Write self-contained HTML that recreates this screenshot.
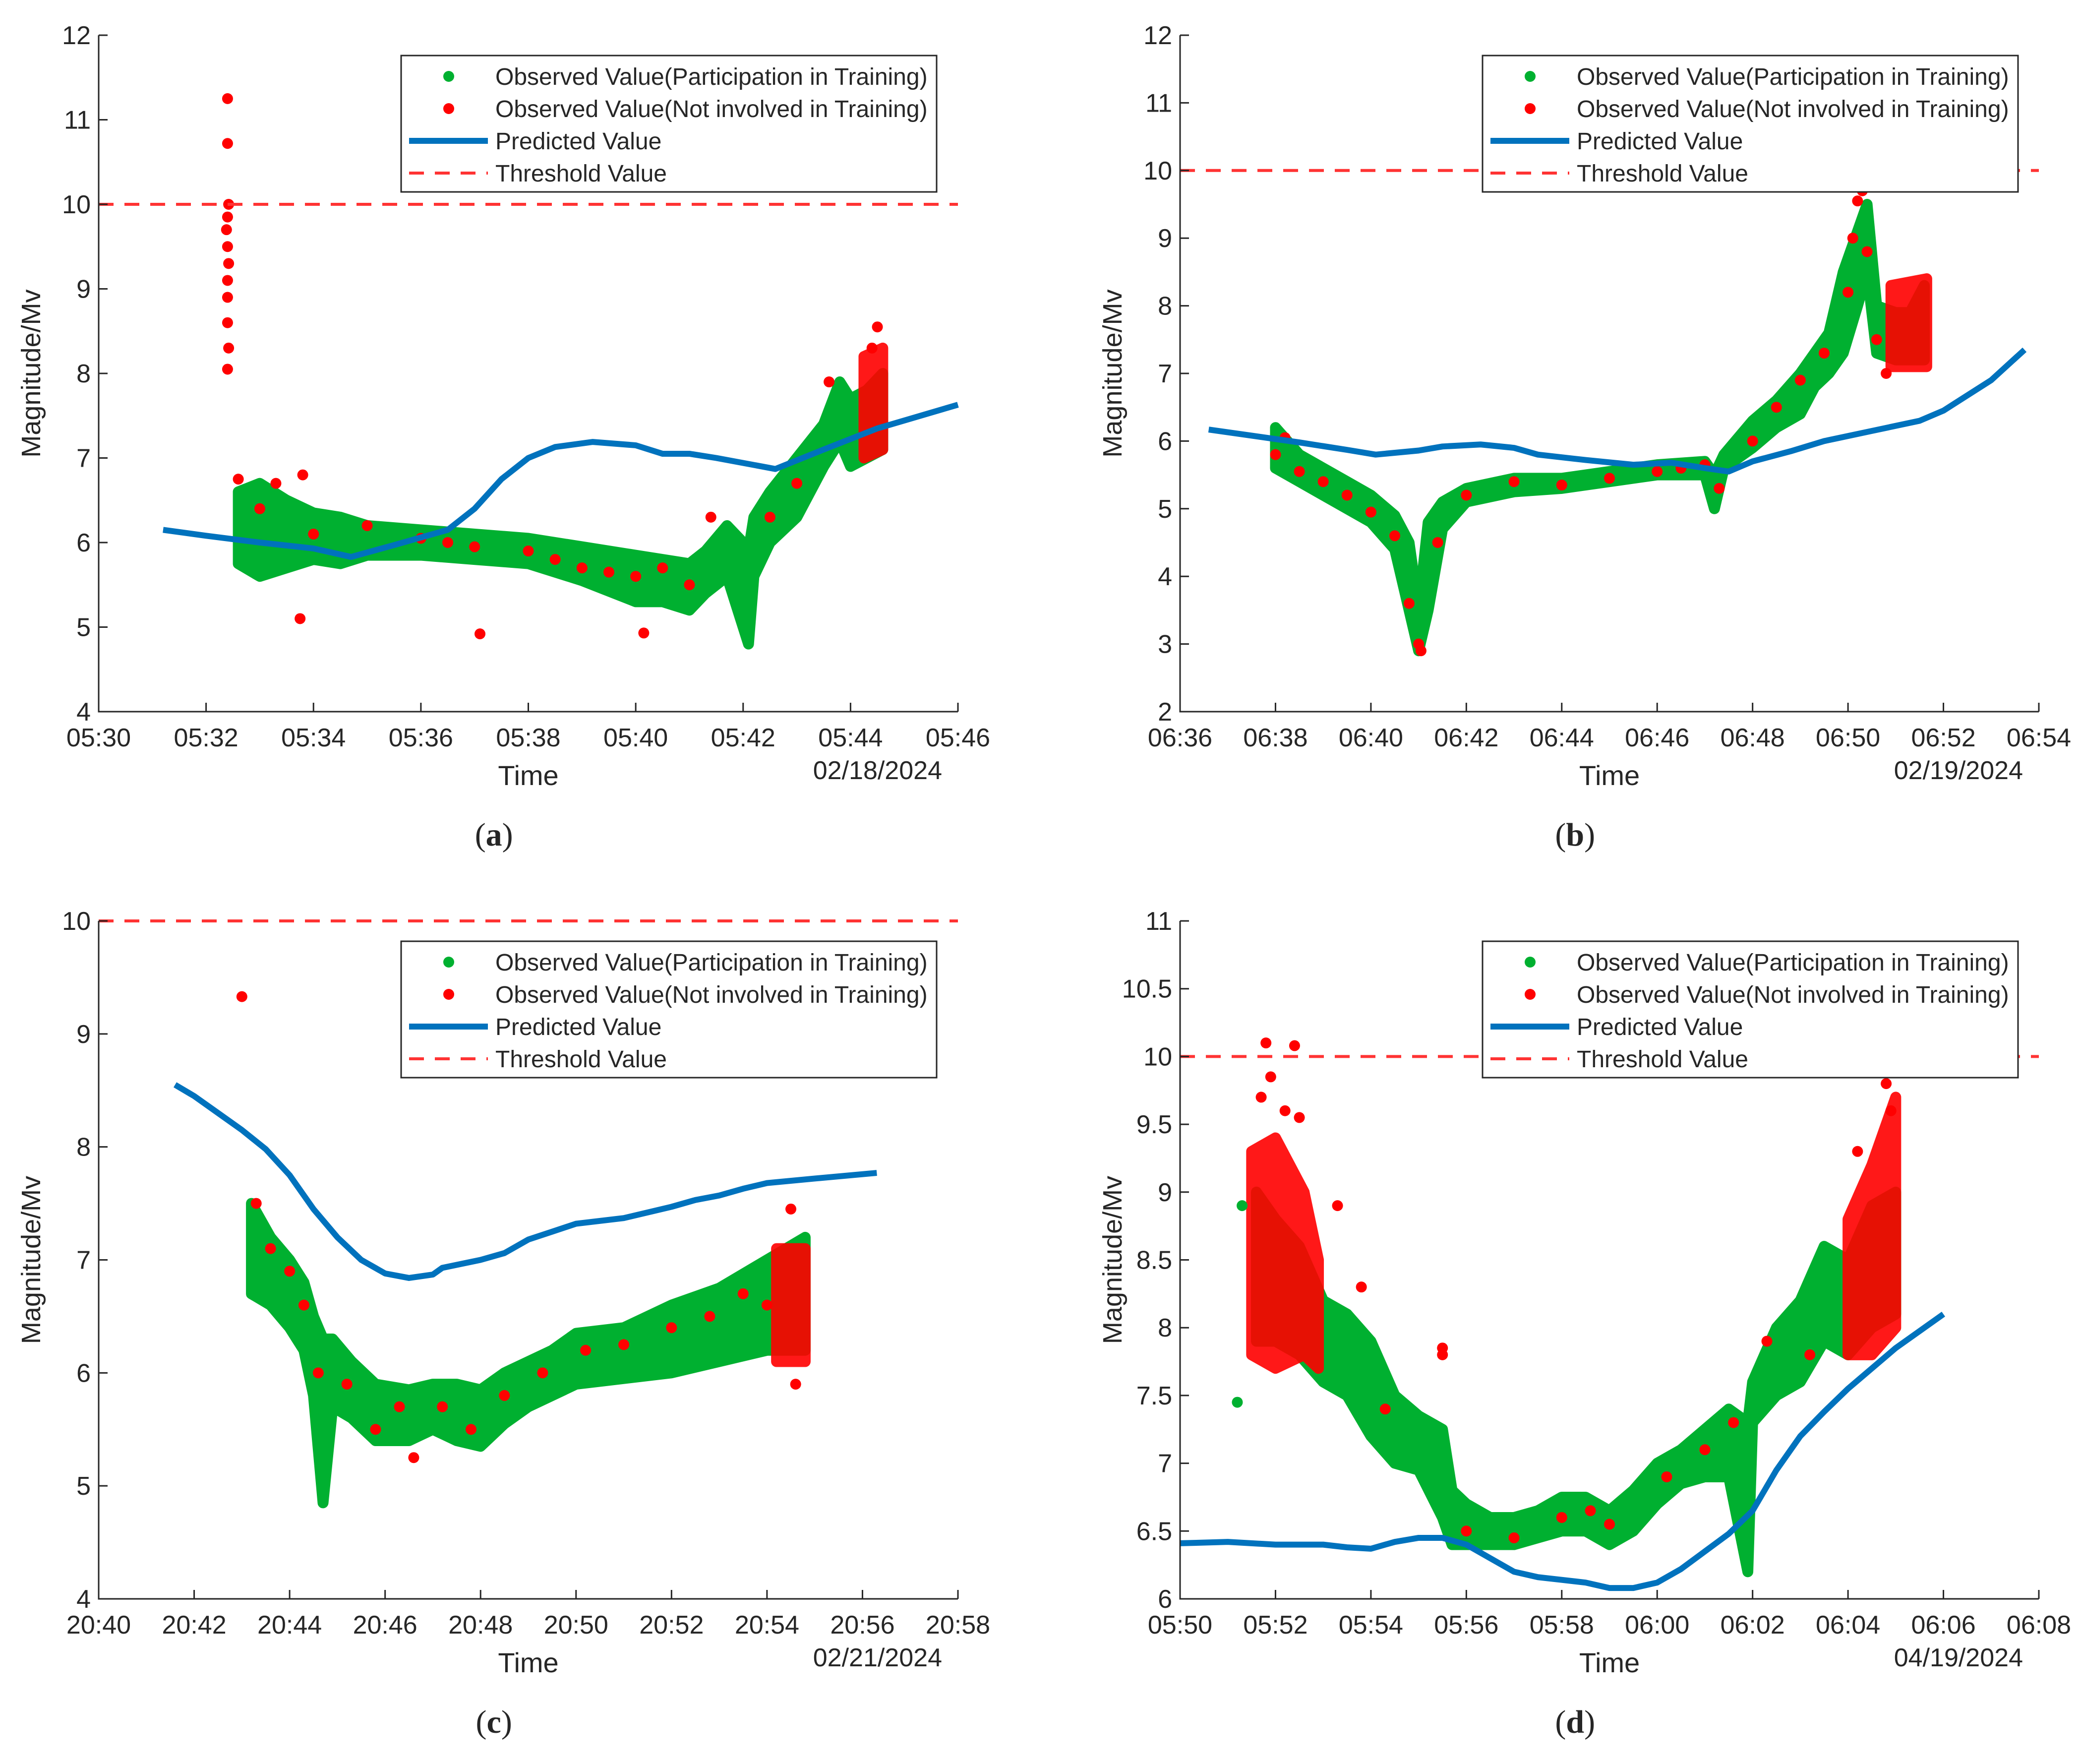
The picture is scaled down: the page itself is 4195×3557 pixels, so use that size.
<!DOCTYPE html>
<html><head><meta charset="utf-8"><style>
html,body{margin:0;padding:0;background:#fff}
svg{display:block}
text{font-family:"Liberation Sans",Arial,sans-serif;fill:#262626}
</style></head><body>
<svg id="fig" xmlns="http://www.w3.org/2000/svg" width="4195" height="3557" viewBox="0 0 4195 3557"></svg>
<script>
// ---------- DATA ----------
// Panel a (minutes after 05:30, 02/18/2024)
const aXTicks=['05:30','05:32','05:34','05:36','05:38','05:40','05:42','05:44','05:46'];
const aYTicks=[4,5,6,7,8,9,10,11,12];
const aPredT=[1.2,2,3,4,4.7,5.5,6.5,7,7.5,8,8.5,9.2,10,10.5,11,11.5,12.6,13.5,14.5,16];
const aPredV=[6.15,6.08,6.0,5.93,5.83,5.97,6.15,6.4,6.75,7.0,7.13,7.19,7.15,7.05,7.05,7.0,6.87,7.1,7.35,7.63];
const aBandT=[2.6,3,3.5,4,4.5,5,6,7,8,9,10,10.5,11,11.3,11.7,12.0,12.1,12.2,12.5,13,13.5,13.8,14,14.3,14.6];
const aBandLo=[5.75,5.6,5.7,5.8,5.75,5.85,5.85,5.8,5.75,5.55,5.3,5.3,5.2,5.4,5.6,5.0,4.8,5.6,6.0,6.3,6.9,7.2,6.9,7.0,7.1];
const aBandHi=[6.6,6.7,6.5,6.35,6.3,6.2,6.15,6.1,6.05,5.95,5.85,5.8,5.75,5.9,6.2,6.0,5.9,6.3,6.6,7.0,7.4,7.9,7.7,7.8,8.0];
const aRedBandT=[14.25,14.6];
const aRedBandLo=[7.0,7.1];
const aRedBandHi=[8.2,8.3];
const aRedT=[2.4,2.4,2.42,2.4,2.38,2.4,2.42,2.4,2.4,2.4,2.42,2.4,2.6,3.3,3.8,3.75,7.1,10.15,13.6,14.5,14.4,11.4,3.0,4.0,5.0,6.0,7.0,8.0,9.0,10.0,10.5,11.0,12.5,13.0,6.5,8.5,9.5];
const aRedV=[11.25,10.72,10.0,9.85,9.7,9.5,9.3,9.1,8.9,8.6,8.3,8.05,6.75,6.7,6.8,5.1,4.92,4.93,7.9,8.55,8.3,6.3,6.4,6.1,6.2,6.05,5.95,5.9,5.7,5.6,5.7,5.5,6.3,6.7,6.0,5.8,5.65];

// Panel b (minutes after 06:36, 02/19/2024)
const bXTicks=['06:36','06:38','06:40','06:42','06:44','06:46','06:48','06:50','06:52','06:54'];
const bYTicks=[2,3,4,5,6,7,8,9,10,11,12];
const bPredT=[0.6,1.5,2.5,3.5,4.1,5,5.5,6.3,7,7.5,8.5,9.5,10.3,11,11.5,12,12.8,13.5,14.5,15.5,16,17,17.7];
const bPredV=[6.17,6.08,5.98,5.87,5.8,5.86,5.92,5.95,5.9,5.8,5.72,5.65,5.68,5.6,5.55,5.7,5.85,6.0,6.15,6.3,6.45,6.9,7.35];
const bBandT=[2,2.5,3,3.5,4,4.5,4.8,5,5.2,5.5,6,7,8,9,10,11,11.2,11.4,12,12.5,13,13.3,13.6,13.9,14.2,14.4,14.6,15,15.3,15.6];
const bBandLo=[5.6,5.4,5.2,5.0,4.8,4.4,3.5,2.9,3.5,4.7,5.1,5.25,5.3,5.4,5.5,5.5,5.0,5.6,5.9,6.2,6.4,6.8,7.0,7.3,8.0,8.5,7.3,7.2,7.2,7.2];
const bBandHi=[6.2,5.8,5.6,5.4,5.2,4.9,4.5,3.5,4.8,5.1,5.3,5.45,5.45,5.55,5.65,5.7,5.5,5.8,6.3,6.6,7.0,7.3,7.6,8.5,9.1,9.5,8.0,7.9,7.9,8.3];
const bRedBandT=[14.9,15.65];
const bRedBandLo=[7.1,7.1];
const bRedBandHi=[8.3,8.4];
const bRedT=[2.0,2.2,2.5,3,3.5,4,4.5,4.8,5.0,5.05,5.4,6,7,8,9,10,10.5,11,11.3,12,12.5,13,13.5,14.0,14.1,14.2,14.3,14.4,14.6,14.8];
const bRedV=[5.8,6.05,5.55,5.4,5.2,4.95,4.6,3.6,3.0,2.9,4.5,5.2,5.4,5.35,5.45,5.55,5.6,5.65,5.3,6.0,6.5,6.9,7.3,8.2,9.0,9.55,9.7,8.8,7.5,7.0];

// Panel c (minutes after 20:40, 02/21/2024)
const cXTicks=['20:40','20:42','20:44','20:46','20:48','20:50','20:52','20:54','20:56','20:58'];
const cYTicks=[4,5,6,7,8,9,10];
const cPredT=[1.6,2,2.5,3,3.5,4,4.5,5,5.5,6,6.5,7,7.2,8,8.5,9,9.5,10,11,12,12.5,13,13.5,14,15,16.3];
const cPredV=[8.55,8.45,8.3,8.15,7.98,7.75,7.45,7.2,7.0,6.88,6.84,6.87,6.93,7.0,7.06,7.18,7.25,7.32,7.37,7.47,7.53,7.57,7.63,7.68,7.72,7.77];
const cBandT=[3.2,3.6,4,4.3,4.5,4.7,4.9,5.3,5.8,6.5,7,7.5,8,8.5,9,9.5,10,11,12,13,14,14.8];
const cBandLo=[6.7,6.6,6.4,6.2,5.8,4.85,5.7,5.6,5.4,5.4,5.5,5.4,5.35,5.55,5.7,5.8,5.9,5.95,6.0,6.1,6.2,6.2];
const cBandHi=[7.5,7.2,7.0,6.8,6.5,6.3,6.3,6.1,5.9,5.85,5.9,5.9,5.85,6.0,6.1,6.2,6.35,6.4,6.6,6.75,7.0,7.2];
const cRedBandT=[14.2,14.8];
const cRedBandLo=[6.1,6.1];
const cRedBandHi=[7.1,7.1];
const cRedT=[3.0,3.3,3.6,4.0,4.3,4.6,5.2,5.8,6.3,6.6,7.2,7.8,8.5,9.3,10.2,11,12,12.8,13.5,14.0,14.5,14.6];
const cRedV=[9.33,7.5,7.1,6.9,6.6,6.0,5.9,5.5,5.7,5.25,5.7,5.5,5.8,6.0,6.2,6.25,6.4,6.5,6.7,6.6,7.45,5.9];

// Panel d (minutes after 05:50, 04/19/2024)
const dXTicks=['05:50','05:52','05:54','05:56','05:58','06:00','06:02','06:04','06:06','06:08'];
const dYTicks=[6,6.5,7,7.5,8,8.5,9,9.5,10,10.5,11];
const dPredT=[0,1,2,3,3.5,4,4.5,5,5.5,6,6.5,7,7.5,8,8.5,9,9.5,10,10.5,11,11.5,12,12.5,13,13.5,14,15,16];
const dPredV=[6.41,6.42,6.4,6.4,6.38,6.37,6.42,6.45,6.45,6.4,6.3,6.2,6.16,6.14,6.12,6.08,6.08,6.12,6.22,6.35,6.48,6.65,6.95,7.2,7.38,7.55,7.85,8.1];
const dBandT=[1.6,2,2.5,3,3.5,4,4.5,5,5.5,5.7,6,6.5,7,7.5,8,8.5,9,9.5,10,10.5,11,11.5,11.9,12.0,12.5,13,13.5,14,14.5,15];
const dBandLo=[7.9,7.9,7.8,7.6,7.5,7.2,7.0,6.95,6.6,6.4,6.4,6.4,6.4,6.45,6.5,6.5,6.4,6.5,6.7,6.85,6.9,6.9,6.2,7.3,7.5,7.6,7.9,7.8,8.0,8.1];
const dBandHi=[9.0,8.8,8.6,8.2,8.1,7.9,7.5,7.35,7.25,6.8,6.7,6.6,6.6,6.65,6.75,6.75,6.65,6.8,7.0,7.1,7.25,7.4,7.3,7.6,8.0,8.2,8.6,8.5,8.9,9.0];
const dRedBandT=[1.5,2.0,2.6,2.9];
const dRedBandLo=[7.8,7.7,7.8,7.7];
const dRedBandHi=[9.3,9.4,9.0,8.5];
const dRed2T=[14.0,14.5,15.0];
const dRed2Lo=[7.8,7.8,8.0];
const dRed2Hi=[8.8,9.2,9.7];
const dRedT=[1.8,2.4,1.7,1.9,2.2,2.5,3.3,3.8,4.3,5.5,5.5,6.0,7.0,8.0,8.6,9.0,10.2,11.0,11.6,12.3,13.2,14.8,14.9,14.2];
const dRedV=[10.1,10.08,9.7,9.85,9.6,9.55,8.9,8.3,7.4,7.8,7.85,6.5,6.45,6.6,6.65,6.55,6.9,7.1,7.3,7.9,7.8,9.8,9.6,9.3];
const dGreenT=[1.2,1.3];
const dGreenV=[7.45,8.9];

// ---------- RENDER ----------
const NS='http://www.w3.org/2000/svg';
const fig=document.getElementById('fig');
function mk(tag,attrs,parent){const e=document.createElementNS(NS,tag);for(const k in attrs)e.setAttribute(k,attrs[k]);(parent||fig).appendChild(e);return e;}
const GREEN='#00B030',RED='#FF0000',BLUE='#0072BD',DOT=11;

function panel(cfg){
  const g=mk('g',{});
  
  
  const xs=t=>cfg.l+(t-0)/(cfg.xmax)*(cfg.r-cfg.l);
  const ys=v=>cfg.b-(v-cfg.ymin)/(cfg.ymax-cfg.ymin)*(cfg.b-cfg.t);
  function band(T,L,H,col,name,op){
    let d='M'+T.map((t,i)=>xs(t)+','+ys(H[i])).join(' L');
    for(let i=T.length-1;i>=0;i--)d+=' L'+xs(T[i])+','+ys(L[i]);
    d+='Z';
    const p=mk('path',{d:d,fill:col,stroke:col,'stroke-width':2*DOT,'stroke-linejoin':'round',opacity:op},g);
    
    
  }
  band(cfg.bandT,cfg.bandLo,cfg.bandHi,GREEN,'training-observations',1);
  cfg.redBands.forEach(rb=>band(rb[0],rb[1],rb[2],RED,'test-observations-dense',0.9));
  if(cfg.greenT)cfg.greenT.forEach((t,i)=>{
    const c=mk('circle',{cx:xs(t),cy:ys(cfg.greenV[i]),r:DOT,fill:GREEN},g);
    
    
  });
  cfg.redT.forEach((t,i)=>{
    const c=mk('circle',{cx:xs(t),cy:ys(cfg.redV[i]),r:DOT,fill:RED},g);
    
    
  });
  const pl=mk('polyline',{points:cfg.predT.map((t,i)=>xs(t)+','+ys(cfg.predV[i])).join(' '),fill:'none',stroke:BLUE,'stroke-width':12,'stroke-linejoin':'round'},g);
  
  
  const th=mk('line',{x1:cfg.l,x2:cfg.r,y1:ys(10),y2:ys(10),stroke:'#FF3333','stroke-width':6,'stroke-dasharray':'30 22'},g);
  
  
  const ax=mk('path',{d:`M${cfg.l},${cfg.t} L${cfg.l},${cfg.b} L${cfg.r},${cfg.b}`,fill:'none',stroke:'#262626','stroke-width':3},g);
  
  
  cfg.yTicks.forEach(v=>{
    const y=ys(v);
    mk('line',{x1:cfg.l,x2:cfg.l+18,y1:y,y2:y,stroke:'#262626','stroke-width':3},g);
    const tx=mk('text',{x:cfg.l-16,y:y+18,'font-size':52,'text-anchor':'end'},g);
    tx.textContent=String(v);
    
    
  });
  cfg.xTicks.forEach((lab,i)=>{
    const x=xs(i*2);
    mk('line',{x1:x,x2:x,y1:cfg.b,y2:cfg.b-18,stroke:'#262626','stroke-width':3},g);
    const tx=mk('text',{x:x,y:cfg.b+70,'font-size':52,'text-anchor':'middle'},g);
    tx.textContent=lab;
    
    
  });
  const xt=mk('text',{x:cfg.l+(cfg.r-cfg.l)*0.5,y:cfg.b+148,'font-size':56,'text-anchor':'middle'},g);
  xt.textContent='Time';
  
  
  const dt=mk('text',{x:cfg.r-32,y:cfg.b+136,'font-size':52,'text-anchor':'end'},g);
  dt.textContent=cfg.date;
  
  
  const yt=mk('text',{x:0,y:0,'font-size':54,'text-anchor':'middle',transform:`translate(${cfg.l-118},${(cfg.t+cfg.b)/2}) rotate(-90)`},g);
  yt.textContent='Magnitude/Mv';
  
  
  const cap=mk('text',{x:cfg.l+(cfg.r-cfg.l)*0.46,y:cfg.b+270,'font-size':66,'text-anchor':'middle',style:'font-family:"Liberation Serif",serif'},g);
  cap.innerHTML='(<tspan font-weight="bold">'+cfg.id+'</tspan>)';
  
  
  const lx=cfg.l+610, ly=cfg.t+41;
  const lg=mk('g',{},g);
  
  
  mk('rect',{x:lx,y:ly,width:1080,height:275,fill:'#fff',stroke:'#262626','stroke-width':3},lg);
  const rows=['Observed Value(Participation in Training)','Observed Value(Not involved in Training)','Predicted Value','Threshold Value'];
  rows.forEach((r,i)=>{
    const cy=ly+42+i*65;
    if(i===0)mk('circle',{cx:lx+96,cy:cy,r:DOT,fill:GREEN},lg);
    if(i===1)mk('circle',{cx:lx+96,cy:cy,r:DOT,fill:RED},lg);
    if(i===2)mk('line',{x1:lx+16,x2:lx+175,y1:cy,y2:cy,stroke:BLUE,'stroke-width':12},lg);
    if(i===3)mk('line',{x1:lx+16,x2:lx+175,y1:cy,y2:cy,stroke:'#FF3333','stroke-width':6,'stroke-dasharray':'30 22'},lg);
    const t=mk('text',{x:lx+190,y:cy+17,'font-size':48},lg);
    t.textContent=r;
    
    
  });
}
const top1=71,bot1=1435,top2=1857,bot2=3224;
panel({id:'a',l:199,r:1932,t:top1,b:bot1,xmax:16,ymin:4,ymax:12,xTicks:aXTicks,yTicks:aYTicks,date:'02/18/2024',
  predT:aPredT,predV:aPredV,bandT:aBandT,bandLo:aBandLo,bandHi:aBandHi,redBands:[[aRedBandT,aRedBandLo,aRedBandHi]],redT:aRedT,redV:aRedV});
panel({id:'b',l:2380,r:4112,t:top1,b:bot1,xmax:18,ymin:2,ymax:12,xTicks:bXTicks,yTicks:bYTicks,date:'02/19/2024',
  predT:bPredT,predV:bPredV,bandT:bBandT,bandLo:bBandLo,bandHi:bBandHi,redBands:[[bRedBandT,bRedBandLo,bRedBandHi]],redT:bRedT,redV:bRedV});
panel({id:'c',l:199,r:1932,t:top2,b:bot2,xmax:18,ymin:4,ymax:10,xTicks:cXTicks,yTicks:cYTicks,date:'02/21/2024',
  predT:cPredT,predV:cPredV,bandT:cBandT,bandLo:cBandLo,bandHi:cBandHi,redBands:[[cRedBandT,cRedBandLo,cRedBandHi]],redT:cRedT,redV:cRedV});
panel({id:'d',l:2380,r:4112,t:top2,b:bot2,xmax:18,ymin:6,ymax:11,xTicks:dXTicks,yTicks:dYTicks,date:'04/19/2024',
  predT:dPredT,predV:dPredV,bandT:dBandT,bandLo:dBandLo,bandHi:dBandHi,redBands:[[dRedBandT,dRedBandLo,dRedBandHi],[dRed2T,dRed2Lo,dRed2Hi]],redT:dRedT,redV:dRedV,greenT:dGreenT,greenV:dGreenV});
</script>
</body></html>
